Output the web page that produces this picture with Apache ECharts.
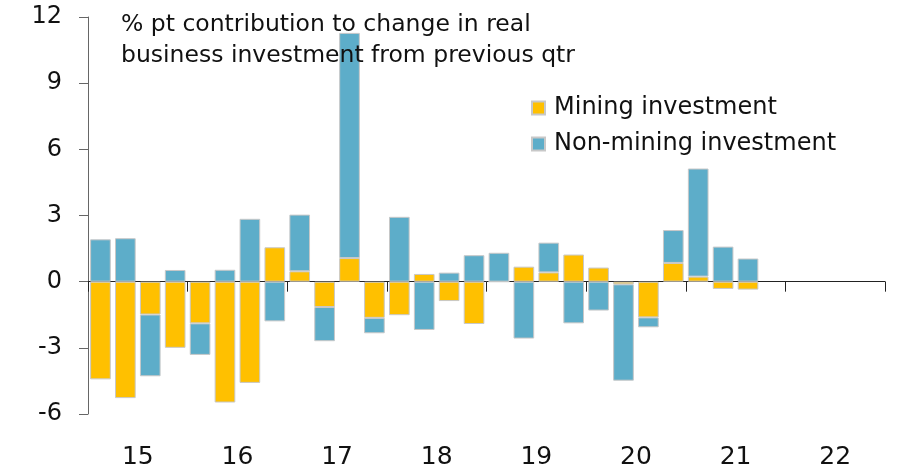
<!DOCTYPE html>
<html>
<head>
<meta charset="utf-8">
<script src="https://cdn.jsdelivr.net/npm/echarts@6/dist/echarts.min.js"></script>
<style>
  html, body { margin: 0; padding: 0; background: #fff; }
  #chart { width: 900px; height: 470px; }
</style>
</head>
<body>
<div id="chart"></div>
<script>
// years shown on the axis, quarters built from them
const years = ['15', '16', '17', '18', '19', '20', '21', '22']
const quarters = []
years.forEach(y => ['Q1', 'Q2', 'Q3', 'Q4'].forEach(q => quarters.push(y + q)))

// % pt contributions, 2015Q1 .. 2021Q3
const mining = [
  -4.43, -5.28, -1.49, -3.0, -1.89, -5.48, -4.59, 1.56, 0.47, -1.15,
  1.07, -1.64, -1.52, 0.35, -0.88, -1.92, 0, 0.68, 0.42, 1.23,
  0.64, -0.12, -1.62, 0.85, 0.23, -0.33, -0.36
]
const nonMining = [
  1.92, 1.97, -2.8, 0.53, -1.43, 0.54, 2.85, -1.8, 2.57, -1.55,
  10.21, -0.7, 2.94, -2.19, 0.41, 1.2, 1.31, -2.58, 1.35, -1.89,
  -1.31, -4.37, -0.45, 1.49, 4.9, 1.59, 1.05
]

const FONT = 'DejaVu Sans'
const chart = echarts.init(document.getElementById('chart'))

chart.setOption({
  animation: false,
  textStyle: { fontFamily: FONT, color: '#000' },
  title: {
    text: '% pt contribution to change in real\nbusiness investment from previous qtr',
    left: 116,
    top: 4,
    textStyle: { fontFamily: FONT, fontSize: 23.5, fontWeight: 'normal', color: '#111', lineHeight: 31 }
  },
  legend: {
    orient: 'vertical',
    left: 526,
    top: 91,
    itemWidth: 13,
    itemHeight: 13,
    itemGap: 12,
    icon: 'rect',
    textStyle: { fontFamily: FONT, fontSize: 24, color: '#111', padding: [0, 0, 0, 4] },
    data: ['Mining investment', 'Non-mining investment']
  },
  grid: { left: 88, right: 15, top: 17, bottom: 53 },
  xAxis: [
    {
      type: 'category',
      data: quarters,
      axisLine: { onZero: true, lineStyle: { color: '#222', width: 1 } },
      axisTick: { show: true, interval: 3, length: 10, lineStyle: { color: '#222' } },
      axisLabel: { show: false }
    },
    {
      type: 'category',
      data: years,
      position: 'bottom',
      axisLine: { show: false, onZero: false },
      axisTick: { show: false },
      axisLabel: { fontFamily: FONT, fontSize: 25, color: '#111', margin: 31 }
    }
  ],
  yAxis: {
    type: 'value',
    min: -6,
    max: 12,
    interval: 3,
    splitLine: { show: false },
    axisLine: { show: true, lineStyle: { color: '#666' } },
    axisTick: { show: true, length: 9, lineStyle: { color: '#666' } },
    axisLabel: { fontFamily: FONT, fontSize: 24, color: '#111', margin: 26 }
  },
  series: [
    {
      name: 'Mining investment',
      type: 'bar',
      stack: 'total',
      xAxisIndex: 0,
      barCategoryGap: '17%',
      itemStyle: { color: '#FFC000', borderColor: '#c8c8c8', borderWidth: 1 },
      data: mining
    },
    {
      name: 'Non-mining investment',
      type: 'bar',
      stack: 'total',
      xAxisIndex: 0,
      barCategoryGap: '17%',
      itemStyle: { color: '#5DADC9', borderColor: '#c8c8c8', borderWidth: 1 },
      data: nonMining
    }
  ]
})
</script>
</body>
</html>
